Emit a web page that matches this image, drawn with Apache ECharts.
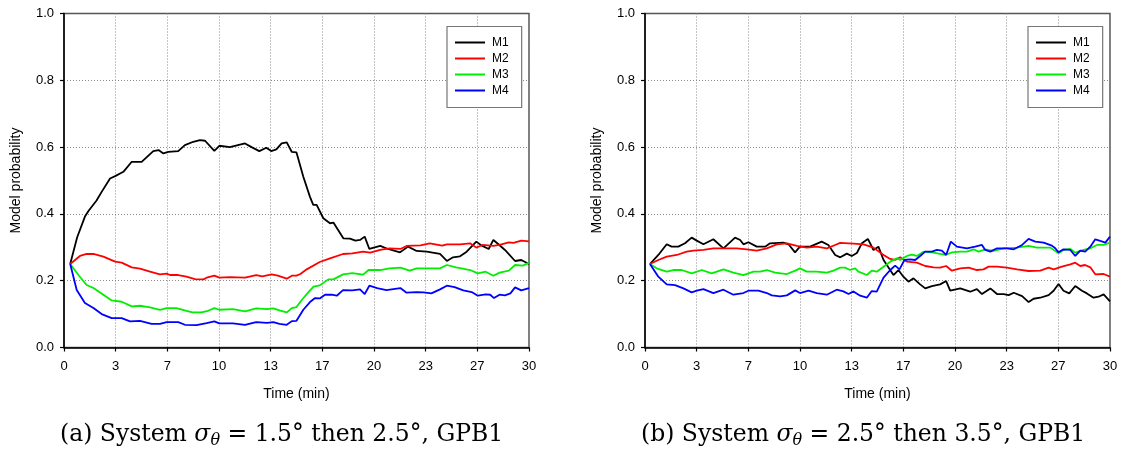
<!DOCTYPE html>
<html>
<head>
<meta charset="utf-8">
<script src="https://cdn.jsdelivr.net/npm/echarts@6/dist/echarts.min.js"></script>
<style>
  html, body { margin: 0; padding: 0; background: #fff; }
  #chart { width: 1121px; height: 454px; }
</style>
</head>
<body>
<div id="chart"></div>
<script>
// Model names and tick labels
const modelNames = ['M1', 'M2', 'M3', 'M4'];
const timeTickLabels = ['0', '3', '7', '10', '13', '17', '20', '23', '27', '30'];
const captionA = ['(a) System ', 'σ', 'θ', ' = 1.5° then 2.5°, GPB1'];
const captionB = ['(b) System ', 'σ', 'θ', ' = 2.5° then 3.5°, GPB1'];

// Panel (a): [time (min), model probability]
const a_M1 = [[0.4,0.25],[0.85,0.33],[1.35,0.392],[1.6,0.41],[2.1,0.44],[2.43,0.466],[2.97,0.506],[3.3,0.513],[3.83,0.526],[4.37,0.556],[5.01,0.556],[5.76,0.588],[6.1,0.591],[6.41,0.581],[6.73,0.586],[7.37,0.588],[7.8,0.606],[8.34,0.616],[8.77,0.621],[9.1,0.619],[9.7,0.589],[10.02,0.604],[10.7,0.6],[11.68,0.611],[12.1,0.6],[12.6,0.588],[13.05,0.598],[13.37,0.588],[13.7,0.593],[14.04,0.611],[14.37,0.614],[14.69,0.586],[15.0,0.584],[15.44,0.511],[15.87,0.451],[16.08,0.427],[16.3,0.427],[16.73,0.387],[17.16,0.372],[17.38,0.374],[18.02,0.327],[18.45,0.326],[18.8,0.32],[19.1,0.322],[19.4,0.332],[19.7,0.295],[20.4,0.304],[20.9,0.295],[21.68,0.285],[22.2,0.302],[22.75,0.289],[23.4,0.287],[24.26,0.28],[24.7,0.259],[25.1,0.27],[25.55,0.273],[25.98,0.287],[26.6,0.317],[26.95,0.305],[27.4,0.295],[27.7,0.322],[28.03,0.309],[28.45,0.292],[29.1,0.259],[29.5,0.262],[30,0.25]];
const a_M2 = [[0.4,0.25],[1.03,0.274],[1.46,0.28],[1.9,0.28],[2.54,0.272],[3.3,0.257],[3.72,0.254],[4.37,0.24],[4.9,0.236],[5.55,0.227],[6.19,0.219],[6.62,0.221],[6.84,0.217],[7.37,0.217],[7.9,0.212],[8.45,0.205],[9.0,0.204],[9.2,0.209],[9.7,0.215],[10.02,0.209],[10.7,0.211],[11.68,0.209],[12.4,0.217],[12.8,0.213],[13.4,0.219],[13.8,0.215],[14.37,0.206],[14.7,0.215],[15.0,0.215],[15.25,0.22],[15.66,0.234],[16.5,0.256],[17.16,0.267],[18.0,0.28],[18.6,0.282],[19.3,0.287],[19.76,0.284],[20.4,0.292],[21.0,0.297],[21.7,0.295],[22.1,0.304],[23.0,0.306],[23.6,0.312],[24.4,0.305],[24.7,0.309],[25.55,0.309],[26.2,0.312],[26.6,0.299],[27.0,0.307],[27.7,0.304],[28.1,0.307],[28.7,0.315],[29.0,0.313],[29.5,0.32],[30,0.318]];
const a_M3 = [[0.4,0.25],[0.93,0.217],[1.46,0.187],[1.9,0.178],[2.54,0.158],[3.08,0.141],[3.72,0.137],[4.37,0.123],[4.9,0.125],[5.55,0.12],[6.19,0.113],[6.62,0.118],[7.26,0.118],[7.9,0.11],[8.3,0.105],[8.85,0.105],[9.3,0.11],[9.7,0.118],[10.02,0.113],[10.9,0.115],[11.68,0.108],[12.4,0.117],[13.1,0.115],[13.5,0.117],[13.9,0.111],[14.37,0.105],[14.7,0.118],[15.0,0.121],[15.35,0.143],[15.76,0.165],[16.1,0.182],[16.5,0.186],[17.05,0.204],[17.38,0.204],[18.0,0.219],[18.6,0.223],[19.3,0.218],[19.65,0.232],[20.4,0.232],[21.0,0.237],[21.7,0.239],[22.3,0.23],[22.75,0.237],[23.6,0.237],[24.26,0.237],[24.7,0.247],[25.3,0.24],[26.2,0.232],[26.7,0.222],[27.2,0.227],[27.7,0.215],[28.1,0.224],[28.7,0.23],[29.1,0.247],[29.6,0.245],[30,0.254]];
const a_M4 = [[0.4,0.25],[0.82,0.172],[1.35,0.133],[1.9,0.118],[2.43,0.1],[3.08,0.088],[3.72,0.088],[4.26,0.078],[4.9,0.08],[5.65,0.071],[6.19,0.071],[6.62,0.076],[7.37,0.076],[7.8,0.068],[8.55,0.067],[9.2,0.073],[9.7,0.078],[10.02,0.072],[10.9,0.072],[11.68,0.068],[12.4,0.076],[13.1,0.074],[13.5,0.076],[13.9,0.071],[14.37,0.068],[14.7,0.079],[15.0,0.08],[15.44,0.113],[15.87,0.136],[16.2,0.148],[16.5,0.147],[16.84,0.158],[17.27,0.158],[17.6,0.155],[18.0,0.172],[18.6,0.171],[19.1,0.174],[19.4,0.16],[19.7,0.185],[20.2,0.178],[20.8,0.172],[21.7,0.178],[22.1,0.164],[22.75,0.166],[23.2,0.165],[23.7,0.162],[24.26,0.174],[24.7,0.185],[25.2,0.181],[25.76,0.171],[26.3,0.166],[26.7,0.155],[27.2,0.159],[27.5,0.158],[27.74,0.148],[28.1,0.158],[28.45,0.156],[28.8,0.162],[29.1,0.18],[29.5,0.171],[30,0.178]];

// Panel (b): [time (min), model probability]
const b_M1 = [[0.32,0.25],[0.86,0.277],[1.4,0.309],[1.72,0.302],[2.15,0.302],[2.58,0.312],[3.01,0.329],[3.34,0.32],[3.77,0.309],[4.41,0.324],[5.06,0.297],[5.81,0.329],[6.14,0.322],[6.35,0.309],[6.67,0.315],[7.21,0.302],[7.75,0.302],[8.07,0.312],[8.93,0.314],[9.26,0.309],[9.68,0.285],[10.0,0.302],[10.65,0.302],[11.4,0.317],[11.83,0.307],[12.27,0.277],[12.6,0.27],[13.02,0.281],[13.34,0.274],[13.67,0.283],[13.99,0.312],[14.38,0.325],[14.74,0.292],[15.06,0.302],[15.39,0.262],[15.7,0.24],[16.03,0.217],[16.35,0.232],[16.67,0.212],[17.0,0.197],[17.32,0.207],[17.75,0.189],[18.08,0.177],[18.51,0.184],[19.04,0.189],[19.43,0.199],[19.69,0.17],[20.34,0.177],[20.98,0.167],[21.41,0.175],[21.74,0.16],[22.28,0.177],[22.71,0.16],[23.14,0.16],[23.46,0.157],[23.79,0.164],[24.33,0.154],[24.75,0.136],[25.07,0.146],[25.5,0.149],[26.04,0.157],[26.36,0.17],[26.68,0.19],[27.0,0.17],[27.37,0.162],[27.76,0.184],[28.19,0.17],[28.51,0.162],[28.94,0.149],[29.26,0.152],[29.59,0.159],[30,0.138]];
const b_M2 = [[0.32,0.25],[0.86,0.262],[1.4,0.272],[2.05,0.277],[2.69,0.287],[3.12,0.29],[3.77,0.292],[4.41,0.297],[5.06,0.297],[5.92,0.297],[6.57,0.294],[7.21,0.29],[7.86,0.297],[8.5,0.309],[9.15,0.312],[9.8,0.304],[10.44,0.299],[11.08,0.302],[11.73,0.297],[12.27,0.307],[12.59,0.313],[13.45,0.311],[14.1,0.309],[14.74,0.299],[15.39,0.277],[15.82,0.265],[16.14,0.262],[16.46,0.27],[16.9,0.257],[17.54,0.254],[18.08,0.244],[18.62,0.24],[19.04,0.239],[19.43,0.244],[19.8,0.23],[20.34,0.237],[20.88,0.239],[21.41,0.232],[21.84,0.234],[22.17,0.242],[22.71,0.242],[23.35,0.239],[24.0,0.234],[24.75,0.229],[25.5,0.23],[26.04,0.239],[26.36,0.234],[26.9,0.242],[27.44,0.249],[27.76,0.254],[28.08,0.244],[28.4,0.247],[28.73,0.24],[29.05,0.219],[29.59,0.22],[30,0.212]];
const b_M3 = [[0.32,0.25],[0.75,0.237],[1.4,0.227],[1.83,0.232],[2.37,0.232],[3.01,0.222],[3.66,0.232],[4.3,0.222],[5.06,0.234],[5.7,0.224],[6.35,0.217],[7.0,0.227],[7.43,0.227],[7.86,0.232],[8.4,0.224],[9.15,0.22],[9.69,0.23],[10.0,0.237],[10.44,0.227],[11.08,0.227],[11.73,0.224],[12.16,0.23],[12.59,0.239],[12.91,0.239],[13.23,0.232],[13.56,0.237],[13.77,0.227],[14.31,0.217],[14.63,0.23],[14.95,0.227],[15.39,0.242],[15.82,0.257],[16.25,0.267],[16.46,0.262],[16.9,0.274],[17.22,0.278],[17.54,0.274],[17.97,0.287],[18.62,0.284],[19.37,0.277],[19.8,0.285],[20.34,0.287],[20.77,0.287],[21.2,0.294],[21.52,0.287],[21.95,0.294],[22.49,0.289],[23.14,0.297],[24.0,0.299],[24.75,0.304],[25.29,0.299],[26.15,0.299],[26.68,0.282],[27.0,0.292],[27.44,0.295],[27.76,0.284],[28.3,0.292],[28.73,0.297],[29.16,0.307],[29.59,0.307],[30,0.314]];
const b_M4 = [[0.32,0.25],[0.86,0.212],[1.4,0.189],[1.94,0.187],[2.48,0.177],[3.01,0.165],[3.34,0.17],[3.77,0.175],[4.41,0.163],[5.06,0.173],[5.7,0.158],[6.35,0.163],[6.67,0.17],[7.32,0.17],[7.86,0.163],[8.18,0.156],[8.72,0.153],[9.15,0.156],[9.69,0.171],[10.0,0.163],[10.55,0.17],[11.08,0.163],[11.73,0.158],[12.37,0.173],[12.8,0.168],[13.13,0.16],[13.45,0.168],[13.88,0.155],[14.31,0.149],[14.63,0.169],[14.95,0.167],[15.39,0.209],[15.82,0.232],[16.14,0.245],[16.42,0.234],[16.74,0.262],[17.11,0.264],[17.43,0.262],[17.75,0.274],[18.08,0.287],[18.51,0.287],[18.83,0.292],[19.15,0.29],[19.43,0.277],[19.73,0.317],[20.12,0.302],[20.77,0.297],[21.3,0.302],[21.74,0.307],[21.95,0.292],[22.28,0.287],[22.71,0.297],[23.35,0.297],[23.79,0.294],[24.33,0.307],[24.75,0.325],[25.18,0.317],[25.72,0.314],[26.25,0.305],[26.47,0.297],[26.68,0.285],[27.0,0.294],[27.44,0.292],[27.76,0.274],[28.08,0.29],[28.4,0.287],[28.73,0.302],[29.05,0.324],[29.37,0.319],[29.7,0.314],[30,0.332]];

const panelA = [a_M1, a_M2, a_M3, a_M4];
const panelB = [b_M1, b_M2, b_M3, b_M4];
const lineColors = ['#000000', '#ff0000', '#00ee00', '#0000ff'];

const sansFont = 'Liberation Sans, Arial, sans-serif';
const serifFont = 'DejaVu Serif, serif';

function makeGrid(left) {
  return { left: left, top: 13.5, width: 465, height: 334, show: true,
           borderColor: '#555', borderWidth: 1.5, backgroundColor: 'transparent' };
}

function makeXAxis(gridIndex) {
  return {
    type: 'value', gridIndex: gridIndex, min: 0, max: 30, interval: 10 / 3,
    name: 'Time (min)', nameLocation: 'middle', nameGap: 40,
    nameTextStyle: { fontFamily: sansFont, fontSize: 14, color: '#000' },
    axisLine: { lineStyle: { color: '#000', width: 1.5 } },
    axisTick: { show: true, inside: false, length: 4, lineStyle: { color: '#000', width: 1.2 } },
    axisLabel: {
      margin: 12, fontFamily: sansFont, fontSize: 13, color: '#000',
      formatter: v => timeTickLabels[Math.round(v * 3 / 10)]
    },
    splitLine: { show: true, showMinLine: false, showMaxLine: false,
                 lineStyle: { color: '#8a8a8a', width: 1, type: [1, 2] } }
  };
}

function makeYAxis(gridIndex) {
  return {
    type: 'value', gridIndex: gridIndex, min: 0, max: 1, interval: 0.2,
    name: 'Model probability', nameLocation: 'middle', nameGap: 41,
    nameTextStyle: { fontFamily: sansFont, fontSize: 14, color: '#000' },
    axisLine: { show: true, lineStyle: { color: '#000', width: 1.5 } },
    axisTick: { show: true, inside: false, length: 4, lineStyle: { color: '#000', width: 1.2 } },
    axisLabel: { margin: 10, fontFamily: sansFont, fontSize: 13, color: '#000',
                 formatter: v => v.toFixed(1) },
    splitLine: { show: true, showMinLine: false, showMaxLine: false,
                 lineStyle: { color: '#8a8a8a', width: 1, type: [1, 2] } }
  };
}

function makeLegend(left) {
  return {
    left: left, top: 26.5, orient: 'vertical', data: modelNames,
    icon: 'rect', itemWidth: 30, itemHeight: 2, itemGap: 4,
    padding: [10, 13, 11, 8], backgroundColor: '#fff',
    borderColor: '#777', borderWidth: 1.2, borderRadius: 0,
    selectedMode: false,
    textStyle: { fontFamily: sansFont, fontSize: 12, color: '#000', padding: [0, 0, 0, 2] }
  };
}

function makeCaption(parts, left) {
  return {
    left: left, top: 420, padding: 0,
    text: '{r|' + parts[0] + '}{s|' + parts[1] + '}{t|' + parts[2] + '}{r|' + parts[3] + '}',
    textStyle: {
      fontWeight: 'normal',
      rich: {
        r: { fontFamily: serifFont, fontSize: 23.5, fontWeight: 'normal', color: '#000', lineHeight: 29 },
        s: { fontFamily: serifFont, fontSize: 23.5, fontWeight: 'normal', fontStyle: 'italic', color: '#000', lineHeight: 29 },
        t: { fontFamily: serifFont, fontSize: 16, fontWeight: 'normal', fontStyle: 'italic', color: '#000',
             lineHeight: 16, verticalAlign: 'bottom' }
      }
    }
  };
}

const series = [];
[panelA, panelB].forEach((panel, gi) => {
  panel.forEach((data, i) => {
    series.push({
      type: 'line', name: modelNames[i], xAxisIndex: gi, yAxisIndex: gi,
      data: data, showSymbol: false, symbol: 'none', smooth: false,
      lineStyle: { color: lineColors[i], width: 1.8 },
      itemStyle: { color: lineColors[i] },
      animation: false
    });
  });
});

const chart = echarts.init(document.getElementById('chart'), null, { renderer: 'canvas' });
chart.setOption({
  animation: false,
  backgroundColor: '#fff',
  grid: [makeGrid(64), makeGrid(645)],
  xAxis: [makeXAxis(0), makeXAxis(1)],
  yAxis: [makeYAxis(0), makeYAxis(1)],
  legend: [makeLegend(447), makeLegend(1028)],
  title: [makeCaption(captionA, 60), makeCaption(captionB, 641)],
  series: series
});
</script>
</body>
</html>
